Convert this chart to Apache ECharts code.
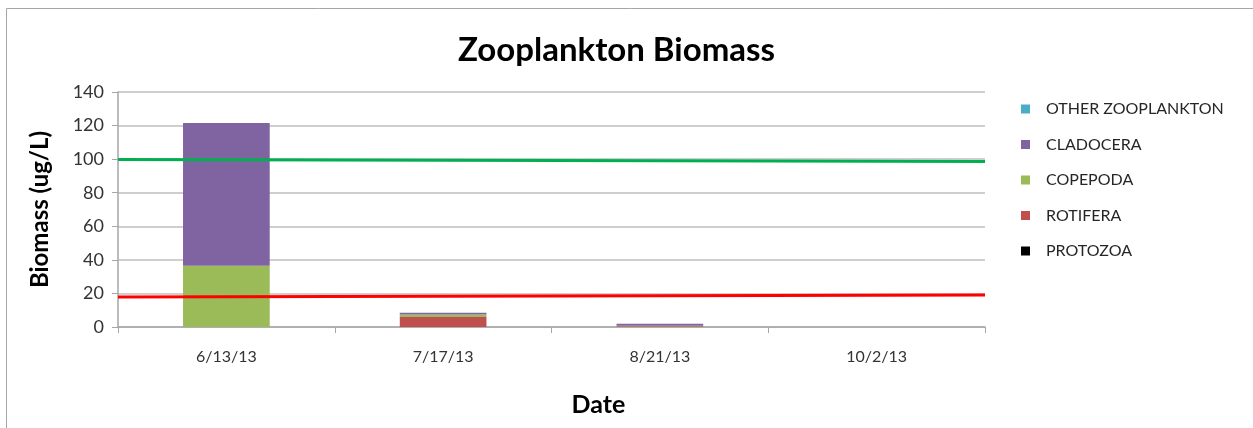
<!DOCTYPE html>
<html>
<head>
<meta charset="utf-8">
<script src="https://cdn.jsdelivr.net/npm/echarts@6/dist/echarts.min.js"></script>
<style>
html,body{margin:0;padding:0;background:#fff;}
#chart{width:1253px;height:428px;}
</style>
</head>
<body>
<div id="chart"></div>
<script>
const categories = ['6/13/13', '7/17/13', '8/21/13', '10/2/13'];
const protozoa = [0, 0, 0, 0];
const rotifera = [0, 6, 0.5, 0];
const copepoda = [36.5, 1.5, 0.2, 0];
const cladocera = [85, 1, 1.2, 0];
const otherZooplankton = [0, 0, 0, 0];
const greenLine = [99.8, 98.6];
const redLine = [17.9, 19.1];
const yTicks = [0, 140, 20];

const FONT = 'Lato, "Open Sans", sans-serif';
const chart = echarts.init(document.getElementById('chart'));

function barSeries(name, data, color) {
  return {
    name: name, type: 'bar', stack: 'total', data: data, barWidth: '40%',
    itemStyle: { color: color }, emphasis: { disabled: true }
  };
}

chart.setOption({
  animation: false,
  graphic: [{
    type: 'rect', shape: { x: 6.5, y: 8.5, width: 1400, height: 600 },
    style: { fill: 'none', stroke: '#a6a6a6', lineWidth: 1 }, silent: true, z: -1
  }],
  title: {
    text: 'Zooplankton Biomass', left: 453, top: 29,
    textStyle: { fontFamily: FONT, fontSize: 33, fontWeight: 'bold', color: '#000' }
  },
  legend: {
    orient: 'vertical', left: 1016, top: 96, itemGap: 19.5,
    itemWidth: 9, itemHeight: 9, icon: 'rect',
    data: ['OTHER ZOOPLANKTON', 'CLADOCERA', 'COPEPODA', 'ROTIFERA', 'PROTOZOA'],
    textStyle: { fontFamily: FONT, fontSize: 16, color: '#262626', padding: [0, 0, 0, 11] }
  },
  grid: { left: 118, right: 268, top: 92, bottom: 101, outerBoundsMode: 'none', containLabel: false },
  xAxis: [{
    type: 'category', data: categories, boundaryGap: true,
    name: 'Date', nameLocation: 'middle', nameGap: 65,
    nameTextStyle: { fontFamily: FONT, fontSize: 25, fontWeight: 'bold', color: '#000', padding: [0, 0, 0, 94] },
    axisLine: { lineStyle: { color: '#a6a6a6', width: 1.5 } },
    axisTick: { show: true, alignWithLabel: false, length: 6, lineStyle: { color: '#a6a6a6' } },
    axisLabel: { fontFamily: FONT, fontSize: 16, color: '#333', margin: 22 }
  }, {
    type: 'value', min: 0, max: 1, show: false
  }],
  yAxis: {
    type: 'value', min: yTicks[0], max: yTicks[1], interval: yTicks[2],
    name: 'Biomass (ug/L)', nameLocation: 'middle', nameGap: 66,
    nameTextStyle: { fontFamily: FONT, fontSize: 24, fontWeight: 'bold', color: '#000' },
    axisLine: { show: true, lineStyle: { color: '#a6a6a6', width: 1.5 } },
    axisTick: { show: true, length: 6, lineStyle: { color: '#a6a6a6' } },
    axisLabel: { fontFamily: FONT, fontSize: 18, color: '#333', margin: 14 },
    splitLine: { lineStyle: { color: '#bfbfbf', width: 1.5 } }
  },
  series: [
    barSeries('PROTOZOA', protozoa, '#000000'),
    barSeries('ROTIFERA', rotifera, '#C0504D'),
    barSeries('COPEPODA', copepoda, '#9BBB59'),
    barSeries('CLADOCERA', cladocera, '#8064A2'),
    barSeries('OTHER ZOOPLANKTON', otherZooplankton, '#4BACC6'),
    {
      name: 'green', type: 'line', xAxisIndex: 1, symbol: 'none', z: 5,
      data: [[0, greenLine[0]], [1, greenLine[1]]],
      lineStyle: { color: '#00B050', width: 3 }
    },
    {
      name: 'red', type: 'line', xAxisIndex: 1, symbol: 'none', z: 5,
      data: [[0, redLine[0]], [1, redLine[1]]],
      lineStyle: { color: '#FF0000', width: 3 }
    }
  ]
});
</script>
</body>
</html>
